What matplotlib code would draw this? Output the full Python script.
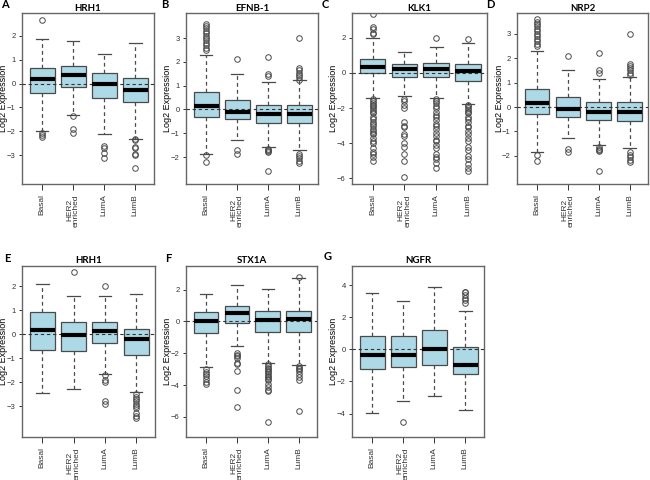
import matplotlib
matplotlib.use("Agg")
import matplotlib.pyplot as plt

plt.rcParams['font.family'] = ['Liberation Sans', 'DejaVu Sans']

groups = ["Basal", "HER2\nenriched", "LumA", "LumB"]

# boxes: [whisker low, q1, median, q3, whisker high]
a_box = [[-2.0, -0.4, 0.2, 0.65, 1.85], [-1.3, -0.15, 0.35, 0.72, 1.8],
         [-2.1, -0.6, 0.0, 0.45, 1.25], [-2.3, -0.78, -0.25, 0.22, 1.7]]
a_out = [[2.65, -2.05, -2.15, -2.25], [-1.35, -1.9, -2.05],
         [-2.6, -2.7, -2.9, -3.1], [-2.3, -2.35, -2.65, -2.7, -2.95, -3.0, -3.55]]

b_box = [[-1.85, -0.3, 0.15, 0.75, 2.28], [-1.28, -0.42, -0.1, 0.4, 1.5],
         [-1.58, -0.55, -0.2, 0.2, 1.15], [-1.7, -0.58, -0.2, 0.2, 1.22]]
b_out = [[2.5, 2.6, 2.7, 2.8, 2.9, 3.0, 3.1, 3.2, 3.3, 3.4, 3.5, 3.6, -1.9, -2.2],
         [2.1, -1.7, -1.85],
         [2.2, 1.4, 1.5, -1.65, -1.7, -1.75, -1.8, -2.6],
         [3.0, 1.25, 1.35, 1.45, 1.55, 1.65, 1.75, -1.85, -1.95, -2.05, -2.15, -2.25]]

c_box = [[-1.4, 0.0, 0.35, 0.78, 2.0], [-1.3, -0.25, 0.2, 0.48, 1.2],
         [-1.45, -0.25, 0.2, 0.55, 1.5], [-1.75, -0.45, 0.1, 0.48, 1.7]]
c_out = [[3.35, 2.6, 2.5, 2.25, 2.2, -1.5, -1.6, -1.7, -1.8, -1.9, -2.0, -2.1, -2.2, -2.3,
          -2.5, -2.6, -2.8, -2.9, -3.0, -3.2, -3.3, -3.4, -3.5, -3.7, -3.9, -4.0, -4.3,
          -4.5, -4.6, -4.8, -5.0],
         [-1.5, -1.6, -1.8, -2.0, -2.8, -3.0, -3.1, -3.5, -3.6, -4.0, -4.2, -4.6, -5.0, -5.9],
         [2.0, -1.5, -1.6, -1.7, -1.9, -2.0, -2.2, -2.4, -2.5, -2.7, -2.9, -3.0, -3.2, -3.4,
          -3.6, -3.8, -3.9, -4.1, -4.3, -4.6, -4.8, -4.9, -5.1, -5.4],
         [1.95, -1.8, -1.9, -2.0, -2.1, -2.2, -2.3, -2.5, -2.6, -2.8, -3.0, -3.1, -3.3, -3.5,
          -3.7, -3.9, -4.2, -4.4, -4.7, -4.9, -5.2, -5.4, -5.6]]

d_box = [[-1.85, -0.3, 0.15, 0.75, 2.28], [-1.27, -0.4, -0.08, 0.42, 1.5],
         [-1.57, -0.52, -0.2, 0.22, 1.15], [-1.68, -0.57, -0.2, 0.22, 1.22]]
d_out = [[2.5, 2.6, 2.7, 2.8, 2.9, 3.0, 3.1, 3.2, 3.3, 3.4, 3.5, 3.6, -1.95, -2.2],
         [2.1, -1.7, -1.85],
         [2.2, 1.4, 1.5, -1.65, -1.7, -1.75, -1.8, -2.6],
         [3.0, 1.3, 1.4, 1.5, 1.6, 1.7, 1.75, -1.85, -1.95, -2.05, -2.15, -2.25]]

e_box = [[-2.45, -0.65, 0.18, 0.92, 2.1], [-2.28, -0.72, -0.05, 0.52, 1.58],
         [-1.68, -0.38, 0.12, 0.52, 1.58], [-2.4, -0.85, -0.18, 0.22, 1.7]]
e_out = [[], [2.6], [2.0, -1.7, -1.9, -2.0, -2.8, -2.9],
         [-2.5, -2.6, -2.7, -2.8, -2.9, -3.0, -3.1, -3.3, -3.4, -3.5]]

f_box = [[-2.85, -0.75, 0.05, 0.62, 1.7], [-1.55, -0.12, 0.55, 0.98, 2.3],
         [-2.6, -0.65, 0.1, 0.68, 2.05], [-2.75, -0.65, 0.15, 0.68, 2.7]]
f_out = [[-3.0, -3.2, -3.3, -3.4, -3.6, -3.8, -3.9],
         [-2.0, -2.1, -2.2, -2.3, -2.6, -2.7, -3.1, -4.3, -5.4],
         [-2.7, -2.8, -2.9, -3.0, -3.1, -3.2, -3.3, -3.4, -3.5, -3.6, -3.7, -3.9,
          -4.1, -4.3, -4.4, -6.3],
         [2.8, -2.8, -2.9, -3.0, -3.1, -3.3, -3.5, -3.7, -5.6]]

g_box = [[-3.95, -1.2, -0.35, 0.85, 3.5], [-3.2, -1.1, -0.38, 0.8, 3.0],
         [-2.9, -0.95, 0.0, 1.18, 3.9], [-3.8, -1.55, -0.95, 0.12, 2.4]]
g_out = [[], [-4.5], [], [2.9, 3.1, 3.2, 3.4, 3.55, 3.6]]

genes = ["HRH1", "EFNB-1", "KLK1", "NRP2", "HRH1", "STX1A", "NGFR"]
letters = ["A", "B", "C", "D", "E", "F", "G"]
boxes = [a_box, b_box, c_box, d_box, e_box, f_box, g_box]
outs = [a_out, b_out, c_out, d_out, e_out, f_out, g_out]
ylims = [(-4.2, 2.95), (-3.13, 4.05), (-6.32, 3.41), (-3.15, 3.85),
         (-4.29, 2.85), (-7.26, 3.48), (-5.46, 5.19)]
yticks = [[-3, -2, -1, 0, 1, 2], [-2, -1, 0, 1, 2, 3], [-6, -4, -2, 0, 2],
          [-2, -1, 0, 1, 2, 3], [-3, -2, -1, 0, 1, 2], [-6, -4, -2, 0, 2],
          [-4, -2, 0, 2, 4]]

# axes boxes in pixels: left, right, top, bottom
frames = [(22, 154, 13, 184), (186, 318, 13, 184), (352, 487, 13, 184), (517, 648, 13, 184),
          (22, 155, 266, 437), (186, 317, 266, 437), (352, 484, 266, 437)]
letter_xy = [(1, 5), (161, 5), (322, 5), (486, 5), (4, 259), (165, 258), (324, 257)]

W, H = 650, 480
fig = plt.figure(figsize=(6.5, 4.8), dpi=100)
edge = '#4a4a4a'

for i in range(7):
    l, r, t, b = frames[i]
    ax = fig.add_axes([l / W, 1 - b / H, (r - l) / W, (b - t) / H])
    stats = []
    for j in range(4):
        lo, q1, med, q3, hi = boxes[i][j]
        stats.append(dict(whislo=lo, q1=q1, med=med, q3=q3, whishi=hi, fliers=outs[i][j]))
    ax.bxp(stats, positions=[1, 2, 3, 4], widths=0.8, patch_artist=True,
           boxprops=dict(facecolor='#add8e6', edgecolor=edge, linewidth=0.9),
           medianprops=dict(color='black', linewidth=3, solid_capstyle='butt', zorder=5),
           whiskerprops=dict(color=edge, linestyle=(0, (3, 2.5)), linewidth=0.9),
           capprops=dict(color=edge, linewidth=0.9),
           capwidths=0.4,
           flierprops=dict(marker='o', markerfacecolor='none', markeredgecolor=edge,
                           markersize=4, markeredgewidth=0.7))
    ax.axhline(0, color='#333333', linestyle=(0, (3, 2.5)), linewidth=0.8, zorder=4)
    ax.set_xlim(0.35, 4.6)
    ax.set_ylim(*ylims[i])
    ax.set_yticks(yticks[i])
    ax.set_xticks([1, 2, 3, 4])
    ax.set_xticklabels(groups, rotation=90, fontsize=6, linespacing=0.95)
    ax.tick_params(axis='y', labelsize=5.5, length=2.5, width=0.7, colors='#333333', pad=2)
    ax.tick_params(axis='x', length=4.3, width=0.7, colors='#333333', pad=3)
    for sp in ax.spines.values():
        sp.set_color('#666666')
        sp.set_linewidth(1.0)
    ax.set_ylabel("Log2 Expression", fontsize=6.5)
    ax.yaxis.set_label_coords(-13.5 / (r - l), 0.5)
    ax.set_title(genes[i], fontsize=7, fontweight='bold', family=['Lato', 'DejaVu Sans'],
                 pad=1.2 if i < 4 else 2.5)
    fig.text(letter_xy[i][0] / W, 1 - letter_xy[i][1] / H, letters[i],
             fontsize=8, fontweight='bold', family=['Lato', 'DejaVu Sans'],
             va='center', ha='left')

fig.savefig("out.png", dpi=100)
